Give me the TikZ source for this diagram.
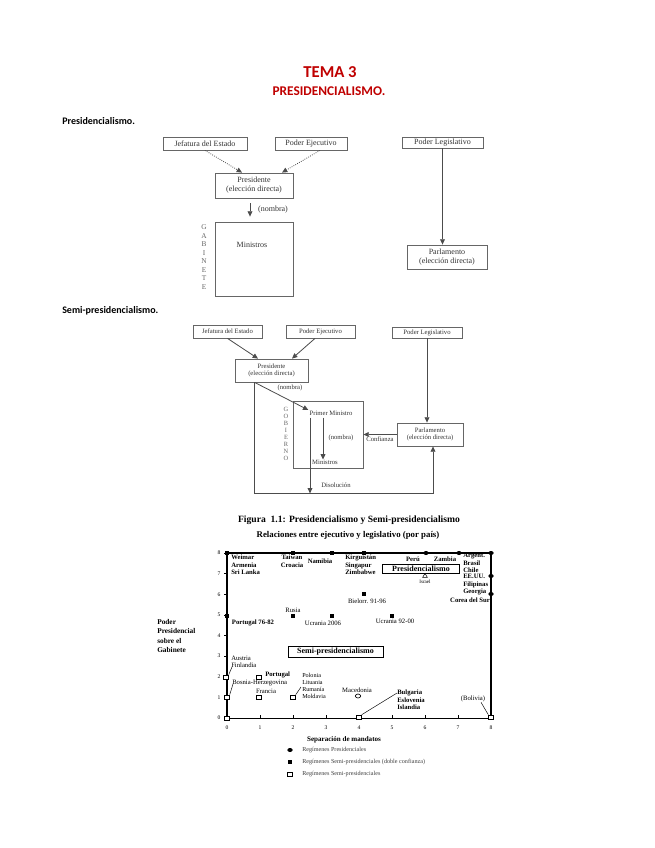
\documentclass[tikz,border=0pt]{standalone}
\usepackage{fontspec}
\setmainfont{Liberation Serif}
\newfontfamily\calibfont{Carlito}
\usetikzlibrary{arrows.meta,calc,shapes.geometric,shadows}
\definecolor{titlered}{RGB}{192,0,0}
\newcommand\fsz[2]{\fontsize{#1}{#2}\selectfont}
\newcommand\bx[7][]{\node[dbox,#1,minimum width={(#5-#3)*0.75pt},minimum height={(#6-#4)*0.75pt}] (#2) at ({(#3+#5)/2},{(#4+#6)/2}) {#7};}
\begin{document}
\begin{tikzpicture}[x=0.75pt,y=-0.75pt,
  dbox/.style={draw=black!60,line width=0.6pt,inner sep=0pt,align=center,text=black!80,font=\fsz{6}{6.8}},
  dbox2/.style={font=\fsz{5}{5.8}},
  lbl/.style={inner sep=0pt,text=black!80,font=\fsz{6}{7}},
  lbl2/.style={inner sep=0pt,text=black!80,font=\fsz{5}{6}},
  arr/.style={-{Triangle[length=4pt,width=3.6pt]},black!70,line width=0.6pt},
  darr/.style={arr,densely dotted},
  sec/.style={inner sep=0pt,anchor=west,font=\calibfont\bfseries\fsz{7.5}{9}},
  cl/.style={inner sep=0pt,font=\bfseries\fsz{5}{5.6},align=left},
  cln/.style={inner sep=0pt,font=\fsz{5}{5.6},align=left},
  tick/.style={inner sep=0pt,font=\fsz{4.2}{5}},
  fsq/.style={fill=black,inner sep=0pt,minimum width=3.6pt,minimum height=3pt},
  fci/.style={ellipse,fill=black,inner sep=0pt,minimum width=4pt,minimum height=3pt},
  osq/.style={draw=black,fill=white,line width=0.5pt,inner sep=0pt,minimum width=3.6pt,minimum height=3pt},
  oci/.style={ellipse,draw=black,fill=white,line width=0.5pt,inner sep=0pt,minimum width=4pt,minimum height=3pt},
  otri/.style={regular polygon,regular polygon sides=3,draw=black,line width=0.4pt,inner sep=0pt,minimum size=4pt},
  cbox/.style={draw=black,line width=0.5pt,fill=white,inner sep=0pt,font=\bfseries\fsz{6}{7},
     drop shadow={shadow xshift=0.7pt,shadow yshift=-0.7pt,fill=black,opacity=1}},
  vlet/.style={inner sep=0pt,align=center,text=black!60},
  lead/.style={line width=0.35pt}
]
\fill[white] (0,0) rectangle (655,848);
\useasboundingbox (0,0) rectangle (655,848);

% ---------- titles ----------
\node[inner sep=0pt,font=\calibfont\bfseries\fsz{12.5}{14},text=titlered] (t1) at (330,72) {TEMA 3};
\node[inner sep=0pt,font=\calibfont\bfseries\fsz{10}{12},text=titlered] (t2) at (329,91) {PRESIDENCIALISMO.};
\node[sec] (s1) at (62,121) {Presidencialismo.};
\node[sec] (s2) at (62,311) {Semi-presidencialismo.};

% ---------- diagram 1 ----------
\bx{jef1}{163}{137}{247}{150}{Jefatura del Estado}
\bx{eje1}{275}{137}{347}{150}{Poder Ejecutivo}
\bx{pres1}{215}{173}{293}{198}{Presidente\\(elección directa)}
\bx{min1}{215}{222}{293}{296}{}
\bx{leg1}{402}{137}{483}{148}{Poder Legislativo}
\bx{par1}{407}{245}{487}{269}{Parlamento\\(elección directa)}
\node[lbl] (minl1) at (252,245) {Ministros};
\node[lbl] (nb1) at (273,210) {(nombra)};
\node[vlet,font=\fsz{5.5}{6.4}] (gab) at (204,257) {G\\A\\B\\I\\N\\E\\T\\E};
\draw[darr] (jef1.south) -- ($(pres1.north)+(-12,0)$);
\draw[darr] ($(eje1.south)+(9,0)$) -- ($(pres1.north)+(28,0)$);
\draw[arr] ($(pres1.south)+(-4,5)$) -- ($(min1.north)+(-4,-5)$);
\draw[arr] (leg1.south) -- (leg1.south |- par1.north);

% ---------- diagram 2 ----------
\bx[dbox2]{jef2}{193}{325}{262}{338}{Jefatura del Estado}
\bx[dbox2]{eje2}{286}{325}{355}{338}{Poder Ejecutivo}
\bx[dbox2]{pres2}{235}{359}{308}{382}{Presidente\\(elección directa)}
\bx[dbox2]{gob2}{293}{401}{363}{468}{}
\bx[dbox2]{leg2}{392}{327}{462}{338}{Poder Legislativo}
\bx[dbox2]{par2}{397}{423}{463}{446}{Parlamento\\(elección directa)}
\node[lbl2] (pml) at (331,413) {Primer Ministro};
\node[lbl2] (minl2) at (325,462) {Ministros};
\node[lbl2] (nb2a) at (290,388) {(nombra)};
\node[lbl2] (nb2b) at (341,438) {(nombra)};
\node[lbl2] (disl) at (336,485) {Disolución};
\node[lbl2] (conf) at (380,439) {Confianza};
\node[vlet,font=\fsz{4.8}{5.2}] (gobl) at (286,434) {G\\O\\B\\I\\E\\R\\N\\O};
\draw[arr] (jef2.south) -- ($(pres2.north)+(-13.5,0)$);
\draw[arr] ($(eje2.south)+(-5.5,0)$) -- ($(pres2.north)+(20.5,0)$);
\coordinate (ps) at ($(pres2.south west)+(20,0)$);
\coordinate (c2) at ($(par2.south)+(3,47)$);
\coordinate (pmin) at ($(pml.west)+(-1,-3)$);
\coordinate (d1) at ($(pml.south)+(-21,2)$);
\coordinate (n1) at ($(pml.south)+(-8,2)$);
\draw[arr] (ps) -- (pmin);
\draw[arr] (ps) |- (c2) -- ($(par2.south)+(3,0)$);
\draw[arr] (d1) -- (d1 |- c2);
\draw[arr] (n1) -- (n1 |- minl2.north);
\draw[arr] (leg2.south) -- (leg2.south |- par2.north);
\draw[arr] (par2.west) -- (par2.west -| gob2.east);

% ---------- figure ----------
\node[inner sep=0pt,font=\bfseries\fsz{7.2}{8}] (fig) at (349,520) {Figura\ \ 1.1: Presidencialismo y Semi-presidencialismo};
\node[inner sep=0pt,font=\bfseries\fsz{6.6}{8}] (rel) at (348,535) {Relaciones entre ejecutivo y legislativo (por país)};

\draw[line width=1pt] (227,553) -- (491,553);
\draw[line width=1pt] (227,553) -- (227,718);
\draw[line width=1pt] (491,553) -- (491,718);
\draw[line width=0.5pt] (227,718) -- (491,718);
\foreach \i in {0,...,8} {
  \draw[line width=0.5pt] (224,{718-20.625*\i}) -- (227,{718-20.625*\i});
  \node[tick] (yl\i) at (219,{718-20.625*\i}) {\i};
  \node[tick] (xl\i) at ({227+33*\i},728) {\i};
}
\foreach \i in {1,...,7} \draw[line width=0.5pt] ({227+33*\i},718) -- ({227+33*\i},715);

% markers
\node[fsq] (mW) at (227,553) {};
\node[fsq] (mTa) at (293,553) {};
\node[fsq] (mNa) at (332,553) {};
\node[fsq] (mKi) at (364,553) {};
\node[fci] (mPe) at (426,553) {};
\node[fci] (mZa) at (459,553) {};
\node[fci] (mAr) at (491,553) {};
\node[fci] (mUS) at (491,576) {};
\node[fci] (mCo) at (491,594) {};
\node[fsq] (mBi) at (364,594) {};
\node[fsq] (mRu) at (293,616) {};
\node[fsq] (mPo) at (227,616) {};
\node[fsq] (mU6) at (332,616) {};
\node[fsq] (mU9) at (392,616) {};
\node[otri] (mIs) at (425,576) {};
\node[osq] (mAu) at (226,677) {};
\node[osq] (mBo) at (227,697) {};
\node[osq] (mPt) at (259,677) {};
\node[osq] (mFr) at (259,697) {};
\node[osq] (mPl) at (293,697) {};
\node[oci] (mMa) at (358,696) {};
\node[osq] (mBu) at (359,717) {};
\node[osq] (mBol) at (491,717) {};
\node[osq] (mO) at (227,718) {};

% labels
\node[cl,anchor=north west] (lW) at (231,555) {Weimar\\Armenia\\Sri Lanka};
\node[cl,align=center,anchor=north] (lTa) at (292,555) {Taiwan\\Croacia};
\node[cl] (lNa) at (320,561) {Namibia};
\node[cl,anchor=north west] (lKi) at (345,555) {Kirguistán\\Singapur\\Zimbabwe};
\node[cl] (lPe) at (413,559.5) {Perú};
\node[cl] (lZa) at (445,559.5) {Zambia};
\node[cl,anchor=north west] (lAr) at (463,553) {Argent.\\Brasil\\Chile};
\node[cl,anchor=north west] (lUS) at (463,574) {EE.UU.\\Filipinas\\Georgia};
\node[cl,anchor=east] (lCo) at (490,600) {Corea del Sur};
\node[cln,font=\fsz{3.8}{4.5}] (lIs) at (425,582) {Israel};
\node[cln] (lBi) at (367,601) {Bielorr. 91-96};
\node[cln] (lU9) at (395,621) {Ucrania 92-00};
\node[cln] (lRu) at (293,610) {Rusia};
\node[cl] (lPo) at (253,623) {Portugal 76-82};
\node[cln] (lU6) at (323,623) {Ucrania 2006};
\node[cbox,minimum width={77*0.75pt},minimum height={9*0.75pt}] (bP) at (421,568.5) {Presidencialismo};
\node[cbox,minimum width={95*0.75pt},minimum height={11*0.75pt}] (bS) at (335.5,651.5) {Semi-presidencialismo};
\node[cln,anchor=south west] (lAu) at (231,668) {Austria\\Finlandia};
\node[cln,anchor=west] (lBo) at (232,683) {Bosnia-Herzegovina};
\node[cl,anchor=west] (lPt) at (265,675) {Portugal};
\node[cln] (lFr) at (266,691) {Francia};
\node[cln,font=\fsz{4.6}{5.2},anchor=north west] (lPl) at (302,673) {Polonia\\Lituania\\Rumanía\\Moldavia};
\node[cln] (lMa) at (357,690) {Macedonia};
\node[cl,anchor=north west] (lBu) at (397,690) {Bulgaria\\Eslovenia\\Islandia};
\node[cln] (lBol) at (473,699) {(Bolivia)};
\draw[lead] (mAu.north east) -- ($(lAu.south west)+(1,-1)$);
\draw[lead] (mBo.north east) -- ($(lBo.west)+(1,1)$);
\draw[lead] (mPl.north east) -- ($(lPl.north west)+(-1,14)$);
\draw[lead] (mBu.north east) -- ($(lBu.north west)+(0,3)$);
\draw[lead] (mBol.north west) -- ($(lBol.south)+(8,0)$);

\node[inner sep=0pt,font=\bfseries\fsz{5.5}{7},anchor=north west,align=left] (lY) at (157,619) {Poder\\Presidencial\\sobre el\\Gabinete};
\node[inner sep=0pt,font=\bfseries\fsz{5.3}{6}] (lX) at (344,740) {Separación de mandatos};

% legend
\node[fci] (gP) at (290,750) {};
\node[fsq] (gD) at (290,762) {};
\node[osq] (gS) at (290,774) {};
\node[cln,font=\fsz{4.6}{5.2},anchor=west,text=black!75] (tP) at (302,750) {Regímenes Presidenciales};
\node[cln,font=\fsz{4.6}{5.2},anchor=west,text=black!75] (tD) at (302,762) {Regímenes Semi-presidenciales (doble confianza)};
\node[cln,font=\fsz{4.6}{5.2},anchor=west,text=black!75] (tS) at (302,774) {Regímenes Semi-presidenciales};
\end{tikzpicture}
\end{document}
